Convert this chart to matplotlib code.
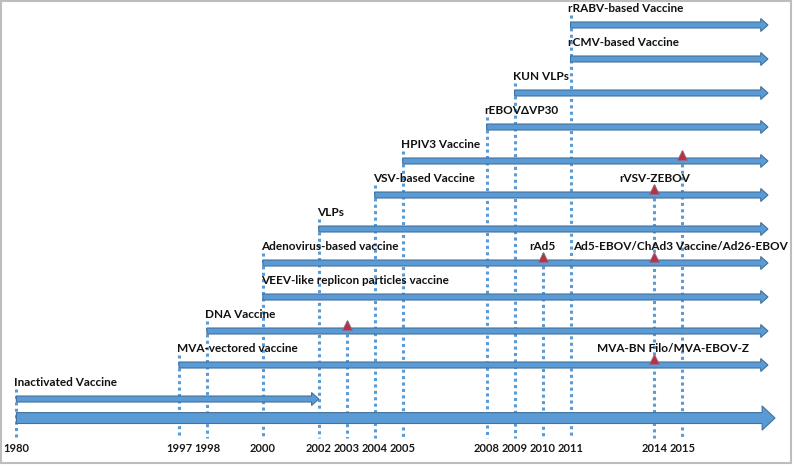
import numpy as np
import matplotlib
matplotlib.use("Agg")
import matplotlib.pyplot as plt
from matplotlib.patches import FancyArrow, Rectangle

# ---------------- data ----------------
platforms = ["rRABV-based Vaccine", "rCMV-based Vaccine", "KUN VLPs", "rEBOV\u0394VP30",
             "HPIV3 Vaccine", "VSV-based Vaccine", "VLPs", "Adenovirus-based vaccine",
             "VEEV-like replicon particles vaccine", "DNA Vaccine", "MVA-vectored vaccine",
             "Inactivated Vaccine"]
start_years = [2011, 2011, 2009, 2008, 2005, 2004, 2002, 2000, 2000, 1998, 1997, 1980]
end_years = [None, None, None, None, None, None, None, None, None, None, None, 2002]

milestone_platforms = ["HPIV3 Vaccine", "VSV-based Vaccine", "Adenovirus-based vaccine",
                       "Adenovirus-based vaccine", "DNA Vaccine", "MVA-vectored vaccine"]
milestone_years = [2015, 2014, 2010, 2014, 2003, 2014]
milestone_labels = ["", "rVSV-ZEBOV", "rAd5", "Ad5-EBOV/ChAd3 Vaccine/Ad26-EBOV", "",
                    "MVA-BN Filo/MVA-EBOV-Z"]

axis_years = [1980, 1997, 1998, 2000, 2002, 2003, 2004, 2005, 2008, 2009, 2010, 2011, 2014, 2015]

# ---------------- layout / style ----------------
milestone_label_dx = [0, 0, 0, 18.5, 0, 13.5]   # points shift of milestone captions
FILL = "#5B9BD5"
EDGE = "#41719C"
DOT = "#5B9BD5"
TRI = "#B8323F"
FONT = ["Lato", "DejaVu Sans"]
LABEL_SIZE = 8.5

BREAK = 1997.0
K = 0.342          # compression of the years before 1997


def fwd(x):
    x = np.asarray(x, dtype=float)
    return np.where(x >= BREAK, x, BREAK - (BREAK - x) * K)


def inv(u):
    u = np.asarray(u, dtype=float)
    return np.where(u >= BREAK, u, BREAK - (BREAK - u) / K)


fig = plt.figure(figsize=(7.94, 4.66), dpi=100)
ax = fig.add_axes([0, 0, 1, 1])
ax.set_xscale("function", functions=(fwd, inv))
ax.set_xlim(float(inv(1990.60)), 2018.99)
ax.set_ylim(12.97, -0.735)
ax.axis("off")

row_y = {p: i for i, p in enumerate(platforms)}
arrow_end = 2018.06
axis_y = 11.56
axis_end = 2018.31
line_bottom = 12.15
year_label_y = 12.47

# vertical dotted guide lines: from first appearance of each year down to axis
for yr in axis_years:
    tops = [row_y[p] for p, s in zip(platforms, start_years) if s == yr]
    tops += [row_y[p] for p, m in zip(milestone_platforms, milestone_years) if m == yr]
    top = min(tops) - 0.3
    ax.plot([yr, yr], [top, line_bottom], color=DOT, lw=2.2,
            linestyle=(0, (1, 1.1)), dash_capstyle="butt", zorder=1)
    ax.text(yr, year_label_y, str(yr), ha="center", va="center", fontsize=8,
            fontweight="bold", family=FONT, color="#1a1a1a")

# platform arrows
for p, s, e in zip(platforms, start_years, end_years):
    y = row_y[p]
    end = arrow_end if e is None else e
    ax.add_patch(FancyArrow(s, y, end - s, 0, width=0.176, head_width=0.38,
                            head_length=0.26, length_includes_head=True,
                            fc=FILL, ec=EDGE, lw=0.8, zorder=3))
    ax.annotate(p, xy=(s, y - 0.48), xytext=(-1.5, 0), textcoords="offset points",
                ha="left", va="center", fontsize=LABEL_SIZE,
                fontweight="bold", family=FONT, color="#111111", zorder=4)

# main time axis arrow
ax.add_patch(FancyArrow(axis_years[0], axis_y, axis_end - axis_years[0], 0, width=0.32,
                        head_width=0.71, head_length=0.46, length_includes_head=True,
                        fc=FILL, ec=EDGE, lw=0.8, zorder=3))

# milestones
for p, yr, lab, dx in zip(milestone_platforms, milestone_years, milestone_labels,
                          milestone_label_dx):
    y = row_y[p]
    ax.plot([yr], [y - 0.18], marker="^", ms=6.5, mfc=TRI, mec="#8A6F95", mew=0.6,
            zorder=5)
    if lab:
        ax.annotate(lab, xy=(yr, y - 0.48), xytext=(dx, 0), textcoords="offset points",
                    ha="center", va="center", fontsize=LABEL_SIZE, fontweight="bold",
                    family=FONT, color="#111111", zorder=6)

# frame around the picture
fig.patches.append(Rectangle((1 / 794, 3 / 466), 790 / 794, 462 / 466,
                             transform=fig.transFigure, fill=False,
                             ec="#BDBDBD", lw=1.5))

fig.savefig("out.png", dpi=100)
